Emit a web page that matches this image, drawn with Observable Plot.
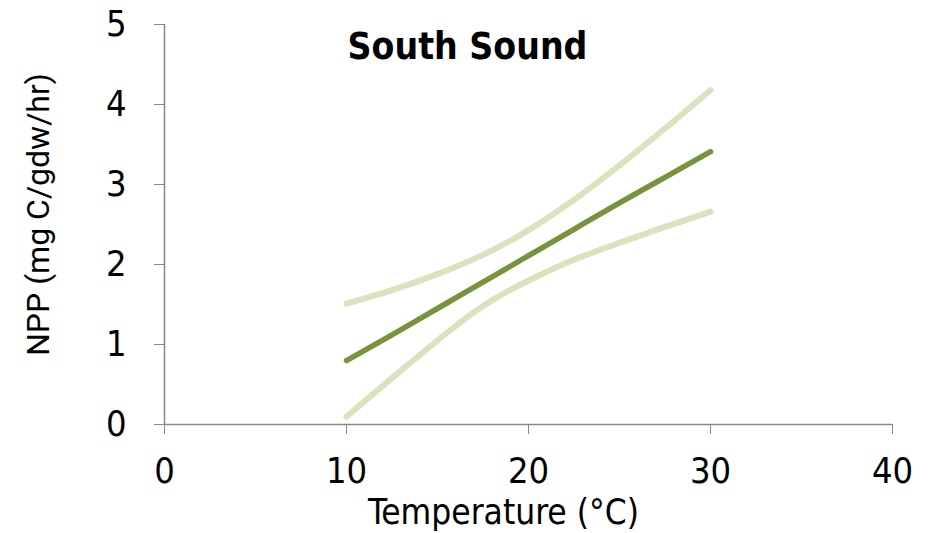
<!DOCTYPE html>
<html>
<head>
<meta charset="utf-8">
<script src="https://cdn.jsdelivr.net/npm/d3@7"></script>
<script src="https://cdn.jsdelivr.net/npm/@observablehq/plot@0.6"></script>
<style>
  html, body { margin: 0; padding: 0; background: #fff; }
  #chart { width: 928px; height: 533px; }
</style>
</head>
<body>
<div id="chart"></div>
<script>
const temperature = [10, 12.5, 15, 17.5, 20, 22.5, 25, 27.5, 30];
const fitted = [0.80, 1.12, 1.45, 1.78, 2.11, 2.44, 2.77, 3.09, 3.41];
const upper = [1.51, 1.68, 1.88, 2.12, 2.43, 2.81, 3.24, 3.70, 4.18];
const lower = [0.10, 0.58, 1.05, 1.48, 1.80, 2.06, 2.27, 2.47, 2.66];
const xTicks = [0, 10, 20, 30, 40];
const yTicks = [0, 1, 2, 3, 4, 5];

const rows = (ys) => temperature.map((t, i) => ({t, v: ys[i]}));
const narrow = "'DejaVu Sans Condensed', 'Liberation Sans Narrow', sans-serif";

const chart = Plot.plot({
  width: 928,
  height: 533,
  marginLeft: 164,
  marginRight: 36,
  marginTop: 24,
  marginBottom: 109,
  style: {fontFamily: narrow, background: "#fff", color: "#000"},
  x: {domain: [0, 40]},
  y: {domain: [0, 5]},
  marks: [
    Plot.ruleX([0], {stroke: "#888", strokeWidth: 1.5}),
    Plot.ruleY([0], {stroke: "#888", strokeWidth: 1.5}),
    Plot.axisY({ticks: yTicks, tickFormat: d3.format("d"), tickSize: 10, tickPadding: 28, stroke: "#888", fontSize: 36, fontFamily: narrow, label: null, fill: "#000"}),
    Plot.axisX({ticks: xTicks, tickFormat: d3.format("d"), tickSize: 10, tickPadding: 23, stroke: "#888", fontSize: 36, fontFamily: narrow, label: null, fill: "#000"}),
    Plot.line(rows(upper), {x: "t", y: "v", stroke: "#d7e4bd", strokeWidth: 6, strokeLinecap: "round", curve: "natural"}),
    Plot.line(rows(lower), {x: "t", y: "v", stroke: "#d7e4bd", strokeWidth: 6, strokeLinecap: "round", curve: "natural"}),
    Plot.line(rows(fitted), {x: "t", y: "v", stroke: "#77933c", strokeWidth: 5.5, strokeLinecap: "round", curve: "natural"}),
    Plot.text(["Temperature (°C)"], {frameAnchor: "bottom", dx: -25, dy: 99, fontSize: 35, fontFamily: narrow, fill: "#000"}),
    Plot.text(["NPP (mg C/gdw/hr)"], {frameAnchor: "left", textAnchor: "middle", dx: -126, dy: -10, rotate: -90, fontSize: 32, fontFamily: "Roboto, sans-serif", fill: "#000"}),
    Plot.text(["South Sound"], {frameAnchor: "top", dx: -61, dy: 8, fontSize: 37, fontWeight: "bold", fontFamily: narrow, fill: "#000"})
  ]
});
document.getElementById("chart").appendChild(chart);
</script>
</body>
</html>
